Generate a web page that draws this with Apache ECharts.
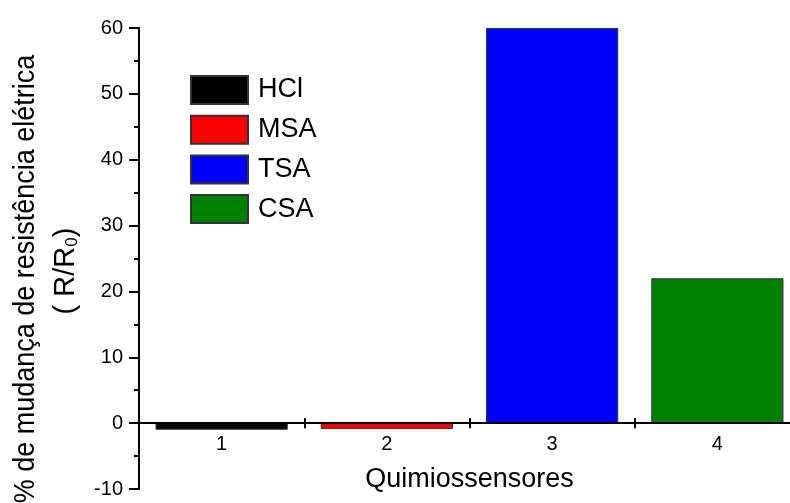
<!DOCTYPE html>
<html><head><meta charset="utf-8">
<script src="https://cdn.jsdelivr.net/npm/echarts@6/dist/echarts.min.js"></script>
<style>html,body{margin:0;padding:0;background:#fff}#c{width:790px;height:503px}</style>
</head><body><div id="c"></div>
<script>
const categories = ['1', '2', '3', '4'];
const seriesNames = ['HCl', 'MSA', 'TSA', 'CSA'];
const values = [-1.0, -0.9, 60, 22];
const colors = ['#000000', '#ff0000', '#0000ff', '#008000'];
const yMin = -10, yMax = 60, yInterval = 10;
const xTitle = 'Quimiossensores';
const yTitle1 = '% de mudança de resistência elétrica';
const FONT = '"Liberation Sans", Arial, sans-serif';

const GRID_TOP = 28, GRID_H = 461;
// place the category axes on the value-axis zero line
const offBottom = -((0 - yMin) / (yMax - yMin)) * GRID_H;
const offTop = -((yMax - 0) / (yMax - yMin)) * GRID_H;

const chart = echarts.init(document.getElementById('c'), null, {renderer: 'canvas'});

const series = seriesNames.map((name, i) => ({
  name: name,
  type: 'bar',
  stack: 'all',
  barWidth: '80%',
  data: categories.map((c, j) => (j === i ? values[i] : '-')),
  itemStyle: {color: colors[i], borderColor: '#333', borderWidth: 1},
  emphasis: {disabled: true}
}));

const axisCommon = {
  type: 'category',
  data: categories,
  boundaryGap: true,
  z: 10,
  axisLine: {show: true, onZero: false, lineStyle: {color: '#000', width: 2}},
  axisTick: {show: true, alignWithLabel: false, length: 5, lineStyle: {color: '#000', width: 2}},
  splitLine: {show: false}
};

chart.setOption({
  animation: false,
  textStyle: {fontFamily: FONT},
  grid: {left: 139, top: GRID_TOP, width: 661, height: GRID_H, containLabel: false, outerBoundsMode: 'none'},
  legend: {
    data: seriesNames,
    orient: 'vertical',
    left: 185,
    top: 70,
    itemWidth: 57,
    itemHeight: 28,
    itemGap: 9.7,
    icon: 'rect',
    selectedMode: false,
    textStyle: {fontSize: 27, color: '#000', fontFamily: FONT, padding: [0, 0, 0, 5]}
  },
  xAxis: [
    Object.assign({}, axisCommon, {
      position: 'bottom',
      offset: offBottom,
      axisLabel: {show: true, fontSize: 20, color: '#000', margin: 11, fontFamily: FONT},
      name: xTitle,
      nameLocation: 'middle',
      nameGap: 43,
      nameTextStyle: {fontSize: 27, color: '#000', fontFamily: FONT}
    }),
    Object.assign({}, axisCommon, {
      position: 'top',
      offset: offTop,
      axisLabel: {show: false}
    })
  ],
  yAxis: {
    type: 'value',
    min: yMin,
    max: yMax,
    interval: yInterval,
    axisLine: {show: true, lineStyle: {color: '#000', width: 2}},
    axisTick: {show: true, length: 10, lineStyle: {color: '#000', width: 2}},
    minorTick: {show: true, splitNumber: 2, length: 5, lineStyle: {color: '#000', width: 2}},
    axisLabel: {fontSize: 20, color: '#000', margin: 16, fontFamily: FONT},
    splitLine: {show: false},
    minorSplitLine: {show: false}
  },
  graphic: [
    {
      type: 'text',
      x: 26, y: 279,
      rotation: Math.PI / 2,
      scaleX: 0.9,
      style: {
        text: yTitle1,
        font: '30px ' + FONT,
        fill: '#000',
        align: 'center',
        verticalAlign: 'middle'
      }
    },
    {
      type: 'text',
      x: 66, y: 271,
      rotation: Math.PI / 2,
      style: {
        text: '{a|( R/R}{s|0}{a|)}',
        align: 'center',
        verticalAlign: 'middle',
        rich: {
          a: {fontSize: 29, fontFamily: FONT, fill: '#000', color: '#000', lineHeight: 30},
          s: {fontSize: 17, fontFamily: FONT, fill: '#000', color: '#000', lineHeight: 17, verticalAlign: 'bottom'}
        }
      }
    }
  ],
  series: series
});
</script>
</body></html>
